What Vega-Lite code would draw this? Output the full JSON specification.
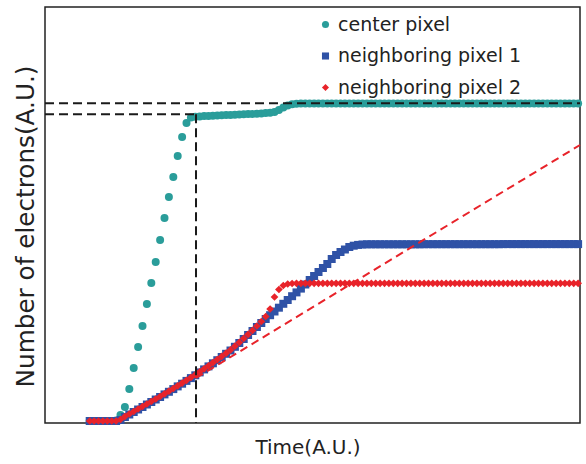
{
  "$schema": "https://vega.github.io/schema/vega-lite/v6.json",
  "width": 535,
  "height": 416,
  "autosize": "none",
  "padding": {"left": 45, "top": 7, "right": 6, "bottom": 41},
  "background": "white",
  "datasets": {
    "signal": [
      {"t": 0, "c": 2, "b": 2, "r": 2},
      {"t": 1, "c": 2, "b": 2, "r": 2},
      {"t": 2, "c": 2, "b": 2, "r": 2},
      {"t": 3, "c": 2, "b": 2, "r": 2},
      {"t": 4, "c": 2, "b": 2, "r": 2},
      {"t": 5, "c": 2, "b": 2, "r": 2},
      {"t": 6, "c": 2.5, "b": 2, "r": 2},
      {"t": 7, "c": 8, "b": 3, "r": 3.5},
      {"t": 8, "c": 16, "b": 6, "r": 6.5},
      {"t": 9, "c": 34, "b": 8.5, "r": 9},
      {"t": 10, "c": 55, "b": 11, "r": 11.5},
      {"t": 11, "c": 76, "b": 13.5, "r": 14},
      {"t": 12, "c": 97, "b": 16, "r": 16.5},
      {"t": 13, "c": 119, "b": 18.5, "r": 19},
      {"t": 14, "c": 140, "b": 21, "r": 21.5},
      {"t": 15, "c": 161, "b": 23.5, "r": 24},
      {"t": 16, "c": 183, "b": 26, "r": 26.5},
      {"t": 17, "c": 205, "b": 28.6, "r": 29.2},
      {"t": 18, "c": 226, "b": 31.2, "r": 31.8},
      {"t": 19, "c": 246, "b": 33.9, "r": 34.5},
      {"t": 20, "c": 267, "b": 36.6, "r": 37.2},
      {"t": 21, "c": 286, "b": 39.3, "r": 39.9},
      {"t": 22, "c": 300, "b": 42.1, "r": 42.7},
      {"t": 23, "c": 305.5, "b": 44.9, "r": 45.5},
      {"t": 24, "c": 306.3, "b": 47.7, "r": 48.3},
      {"t": 25, "c": 306.6, "b": 50.6, "r": 51.2},
      {"t": 26, "c": 306.9, "b": 53.6, "r": 54.2},
      {"t": 27, "c": 307.1, "b": 56.6, "r": 57.2},
      {"t": 28, "c": 307.3, "b": 59.7, "r": 60.3},
      {"t": 29, "c": 307.5, "b": 62.8, "r": 63.4},
      {"t": 30, "c": 307.7, "b": 66, "r": 66.6},
      {"t": 31, "c": 307.9, "b": 69.2, "r": 69.8},
      {"t": 32, "c": 308.1, "b": 72.5, "r": 73.1},
      {"t": 33, "c": 308.3, "b": 76.2, "r": 76.8},
      {"t": 34, "c": 308.5, "b": 80, "r": 80.6},
      {"t": 35, "c": 308.7, "b": 84, "r": 84.6},
      {"t": 36, "c": 308.9, "b": 88, "r": 88.6},
      {"t": 37, "c": 309.1, "b": 92, "r": 92.6},
      {"t": 38, "c": 309.3, "b": 96, "r": 97},
      {"t": 39, "c": 309.6, "b": 100, "r": 101.5},
      {"t": 40, "c": 309.9, "b": 104, "r": 106.5},
      {"t": 41, "c": 310.3, "b": 107.8, "r": 114},
      {"t": 42, "c": 311, "b": 111.5, "r": 126},
      {"t": 43, "c": 313, "b": 115.3, "r": 133.5},
      {"t": 44, "c": 315.5, "b": 119.2, "r": 137.5},
      {"t": 45, "c": 317.5, "b": 123, "r": 139},
      {"t": 46, "c": 318.7, "b": 126.8, "r": 139.5},
      {"t": 47, "c": 319.2, "b": 130.6, "r": 139.7},
      {"t": 48, "c": 319.4, "b": 134.4, "r": 139.7},
      {"t": 49, "c": 319.4, "b": 138.5, "r": 139.7},
      {"t": 50, "c": 319.4, "b": 143, "r": 139.7},
      {"t": 51, "c": 319.5, "b": 147, "r": 139.7},
      {"t": 52, "c": 319.5, "b": 151, "r": 139.7},
      {"t": 53, "c": 319.5, "b": 155, "r": 139.7},
      {"t": 54, "c": 319.5, "b": 159, "r": 139.7},
      {"t": 55, "c": 319.5, "b": 164, "r": 139.7},
      {"t": 56, "c": 319.5, "b": 168, "r": 139.7},
      {"t": 57, "c": 319.5, "b": 171, "r": 139.7},
      {"t": 58, "c": 319.5, "b": 173.5, "r": 139.7},
      {"t": 59, "c": 319.5, "b": 176, "r": 139.7},
      {"t": 60, "c": 319.5, "b": 177.3, "r": 139.7},
      {"t": 61, "c": 319.5, "b": 178.1, "r": 139.7},
      {"t": 62, "c": 319.5, "b": 178.5, "r": 139.7},
      {"t": 63, "c": 319.5, "b": 178.7, "r": 139.7},
      {"t": 64, "c": 319.5, "b": 178.7, "r": 139.7},
      {"t": 65, "c": 319.5, "b": 178.7, "r": 139.7},
      {"t": 66, "c": 319.5, "b": 178.7, "r": 139.7},
      {"t": 67, "c": 319.5, "b": 178.7, "r": 139.7},
      {"t": 68, "c": 319.5, "b": 178.7, "r": 139.7},
      {"t": 69, "c": 319.5, "b": 178.7, "r": 139.7},
      {"t": 70, "c": 319.5, "b": 178.7, "r": 139.7},
      {"t": 71, "c": 319.5, "b": 178.7, "r": 139.7},
      {"t": 72, "c": 319.5, "b": 178.7, "r": 139.7},
      {"t": 73, "c": 319.5, "b": 178.7, "r": 139.7},
      {"t": 74, "c": 319.5, "b": 178.7, "r": 139.7},
      {"t": 75, "c": 319.5, "b": 178.7, "r": 139.7},
      {"t": 76, "c": 319.5, "b": 178.8, "r": 139.7},
      {"t": 77, "c": 319.5, "b": 178.8, "r": 139.7},
      {"t": 78, "c": 319.5, "b": 178.8, "r": 139.7},
      {"t": 79, "c": 319.5, "b": 178.8, "r": 139.7},
      {"t": 80, "c": 319.5, "b": 178.8, "r": 139.7},
      {"t": 81, "c": 319.5, "b": 178.8, "r": 139.7},
      {"t": 82, "c": 319.5, "b": 178.8, "r": 139.7},
      {"t": 83, "c": 319.5, "b": 178.8, "r": 139.7},
      {"t": 84, "c": 319.5, "b": 178.8, "r": 139.7},
      {"t": 85, "c": 319.5, "b": 178.8, "r": 139.7},
      {"t": 86, "c": 319.5, "b": 178.8, "r": 139.7},
      {"t": 87, "c": 319.5, "b": 178.8, "r": 139.7},
      {"t": 88, "c": 319.5, "b": 178.8, "r": 139.7},
      {"t": 89, "c": 319.5, "b": 178.8, "r": 139.7},
      {"t": 90, "c": 319.6, "b": 178.8, "r": 139.7},
      {"t": 91, "c": 319.6, "b": 178.8, "r": 139.7},
      {"t": 92, "c": 319.6, "b": 178.8, "r": 139.7},
      {"t": 93, "c": 319.6, "b": 178.8, "r": 139.7},
      {"t": 94, "c": 319.6, "b": 178.9, "r": 139.7},
      {"t": 95, "c": 319.6, "b": 178.9, "r": 139.7},
      {"t": 96, "c": 319.6, "b": 178.9, "r": 139.7},
      {"t": 97, "c": 319.6, "b": 178.9, "r": 139.7},
      {"t": 98, "c": 319.6, "b": 178.9, "r": 139.7},
      {"t": 99, "c": 319.6, "b": 178.9, "r": 139.7},
      {"t": 100, "c": 319.6, "b": 178.9, "r": 139.7},
      {"t": 101, "c": 319.6, "b": 178.9, "r": 139.7},
      {"t": 102, "c": 319.6, "b": 178.9, "r": 139.7},
      {"t": 103, "c": 319.6, "b": 178.9, "r": 139.7},
      {"t": 104, "c": 319.6, "b": 178.9, "r": 139.7},
      {"t": 105, "c": 319.6, "b": 178.9, "r": 139.7},
      {"t": 106, "c": 319.6, "b": 178.9, "r": 139.7},
      {"t": 107, "c": 319.6, "b": 178.9, "r": 139.7},
      {"t": 108, "c": 319.6, "b": 178.9, "r": 139.7},
      {"t": 109, "c": 319.6, "b": 178.9, "r": 139.7},
      {"t": 110, "c": 319.6, "b": 178.9, "r": 139.7},
      {"t": 111, "c": 319.6, "b": 178.9, "r": 139.7}
    ],
    "guides": [
      {"t1": -10.16, "t2": 111.43, "n1": 319.7, "n2": 319.7},
      {"t1": -10.16, "t2": 24.16, "n1": 308.7, "n2": 308.7},
      {"t1": 24.16, "t2": 24.16, "n1": 308.7, "n2": 0}
    ],
    "tangent": [
      {"t1": 24.16, "t2": 111.43, "n1": 45, "n2": 278}
    ]
  },
  "layer": [
    {
      "data": {"name": "signal"},
      "mark": {"type": "point", "filled": true, "opacity": 1, "size": 64},
      "encoding": {
        "x": {"field": "t", "type": "quantitative", "title": "Time(A.U.)",
              "scale": {"domain": [-10.16, 111.43], "nice": false, "zero": false}},
        "y": {"field": "c", "type": "quantitative", "title": "Number of electrons(A.U.)",
              "scale": {"domain": [0, 416], "nice": false, "zero": false}},
        "color": {"datum": "center pixel", "type": "nominal",
                  "scale": {"domain": ["center pixel", "neighboring pixel 1", "neighboring pixel 2"],
                            "range": ["#2a9d9a", "#2f52a6", "#e8232a"]},
                  "legend": {"orient": "none", "legendX": 271, "legendY": 8, "title": null,
                             "padding": 0, "rowPadding": 11.5, "labelOffset": 3, "symbolSize": 50,
                             "symbolOpacity": 1, "labelFontSize": 19, "labelFont": "DejaVu Sans",
                             "labelLimit": 400, "labelColor": "#222", "symbolStrokeWidth": 0}},
        "shape": {"datum": "center pixel", "type": "nominal",
                  "scale": {"domain": ["center pixel", "neighboring pixel 1", "neighboring pixel 2"],
                            "range": ["circle", "square", "diamond"]}}
      }
    },
    {
      "data": {"name": "signal"},
      "mark": {"type": "point", "filled": true, "opacity": 1, "size": 64},
      "encoding": {
        "x": {"field": "t", "type": "quantitative", "title": "Time(A.U.)", "scale": {"domain": [-10.16, 111.43], "nice": false, "zero": false}},
        "y": {"field": "b", "type": "quantitative", "title": "Number of electrons(A.U.)", "scale": {"domain": [0, 416], "nice": false, "zero": false}},
        "color": {"datum": "neighboring pixel 1", "type": "nominal"},
        "shape": {"datum": "neighboring pixel 1", "type": "nominal"}
      }
    },
    {
      "data": {"name": "signal"},
      "mark": {"type": "point", "filled": true, "opacity": 1, "size": 60},
      "encoding": {
        "x": {"field": "t", "type": "quantitative", "title": "Time(A.U.)", "scale": {"domain": [-10.16, 111.43], "nice": false, "zero": false}},
        "y": {"field": "r", "type": "quantitative", "title": "Number of electrons(A.U.)", "scale": {"domain": [0, 416], "nice": false, "zero": false}},
        "color": {"datum": "neighboring pixel 2", "type": "nominal"},
        "shape": {"datum": "neighboring pixel 2", "type": "nominal"}
      }
    },
    {
      "data": {"name": "tangent"},
      "mark": {"type": "rule", "color": "#e8232a", "strokeWidth": 2, "strokeDash": [8, 5]},
      "encoding": {
        "x": {"field": "t1", "type": "quantitative", "title": "Time(A.U.)", "scale": {"domain": [-10.16, 111.43], "nice": false, "zero": false}},
        "x2": {"field": "t2"},
        "y": {"field": "n1", "type": "quantitative", "title": "Number of electrons(A.U.)", "scale": {"domain": [0, 416], "nice": false, "zero": false}},
        "y2": {"field": "n2"}
      }
    },
    {
      "data": {"name": "guides"},
      "mark": {"type": "rule", "color": "#1a1a1a", "strokeWidth": 2, "strokeDash": [9, 5]},
      "encoding": {
        "x": {"field": "t1", "type": "quantitative", "title": "Time(A.U.)", "scale": {"domain": [-10.16, 111.43], "nice": false, "zero": false}},
        "x2": {"field": "t2"},
        "y": {"field": "n1", "type": "quantitative", "title": "Number of electrons(A.U.)", "scale": {"domain": [0, 416], "nice": false, "zero": false}},
        "y2": {"field": "n2"}
      }
    }
  ],
  "config": {
    "font": "DejaVu Sans",
    "view": {"stroke": "#222", "strokeWidth": 1.5},
    "axis": {"labels": false, "ticks": false, "domain": false, "grid": false,
             "titleFont": "DejaVu Sans", "titleFontWeight": "normal", "titleColor": "#222",
             "titleAlign": "center", "titleBaseline": "alphabetic"},
    "axisX": {"titleX": 262.5, "titleY": 30, "titleFontSize": 20},
    "axisY": {"titleX": -12, "titleY": 219, "titleAngle": 270, "titleFontSize": 24.7}
  }
}
